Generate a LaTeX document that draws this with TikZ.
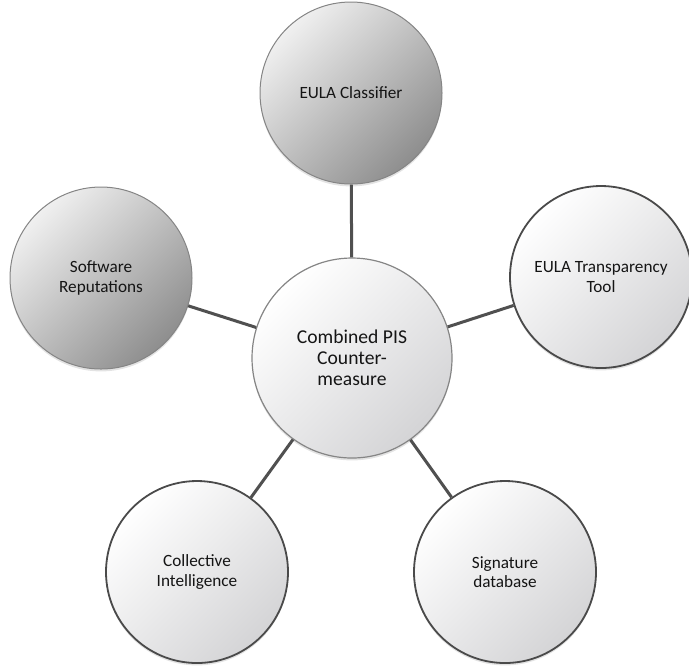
\documentclass[tikz,border=0pt]{standalone}
\usepackage{fontspec}
\setmainfont{Carlito}
\usetikzlibrary{shadows}
\definecolor{rimdark}{HTML}{4A4A4A}
\definecolor{rimgrey}{HTML}{858585}
\definecolor{spokegrey}{HTML}{505050}
\definecolor{shadelight}{HTML}{F0F0F0}
\definecolor{shadedark}{HTML}{8E8E8E}
\definecolor{paleend}{HTML}{D4D4D6}
\definecolor{inktext}{HTML}{151515}

\tikzset{
  bubble/.style={circle, inner sep=0pt, minimum size=91pt, align=center,
    font=\fontsize{8.6}{9.6}\selectfont, text=inktext,
    drop shadow={opacity=0.22, shadow xshift=0pt, shadow yshift=-1.2pt}},
  darkbubble/.style={bubble, draw=rimgrey, line width=0.5pt,
    top color=shadelight, bottom color=shadedark, shading angle=45},
  palebubble/.style={bubble, draw=rimdark, line width=0.9pt,
    top color=white, bottom color=paleend, shading angle=45},
  hubbubble/.style={palebubble, draw=rimgrey, line width=0.6pt,
    minimum size=100pt, font=\fontsize{9.8}{10.6}\selectfont},
  spoke/.style={draw=spokegrey, line width=1.5pt}
}

\begin{document}
\begin{tikzpicture}[x=0.5pt, y=-0.5pt]
\useasboundingbox (0,0) rectangle (689,666);

% hub and its five satellites
\node[hubbubble] (hub) at (352,358) {Combined PIS\\Counter-\\measure};
\node[darkbubble] (classifier) at (351,93) {EULA Classifier};
\node[darkbubble] (reputation) at (101,278) {Software\\Reputations};
\node[palebubble] (transparency) at (601,277) {EULA Transparency\\Tool};
\node[palebubble] (collective) at (197,572) {Collective\\Intelligence};
\node[palebubble] (signature) at (505,572) {Signature\\database};

% spokes
\foreach \sat in {classifier, reputation, transparency, collective, signature}
  \draw[spoke] (hub) -- (\sat);
\end{tikzpicture}
\end{document}
